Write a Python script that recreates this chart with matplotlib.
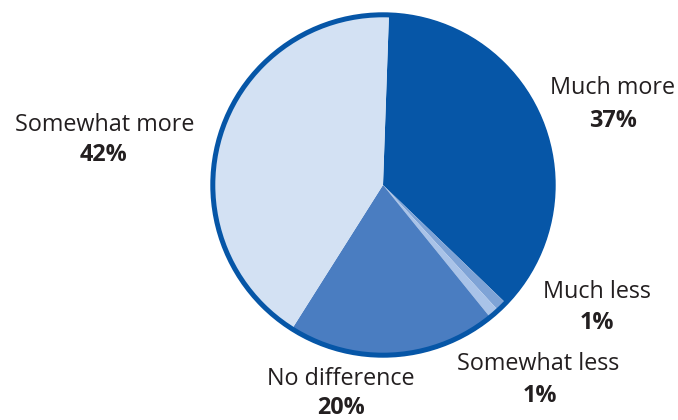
import matplotlib
matplotlib.use("Agg")
import matplotlib.pyplot as plt

categories = ["Much more", "Much less", "Somewhat less", "No difference", "Somewhat more"]
values = [37, 1, 1, 20, 42]
pct_labels = ["37%", "1%", "1%", "20%", "42%"]
colors = ["#0656a7", "#7ea3d6", "#a9c3e8", "#4a7dc1", "#d3e1f3"]

W, H = 678, 420
fig = plt.figure(figsize=(W / 100, H / 100), dpi=100)
ax = fig.add_axes([0, 0, 1, 1])

cx, cy, r = 383, H - 185, 172
ax.pie(values, colors=colors, startangle=88, counterclock=False,
       center=(cx, cy), radius=r, frame=True,
       wedgeprops=dict(linewidth=0))
ax.set_xlim(0, W)
ax.set_ylim(0, H)
ax.set_aspect("equal")
ax.axis("off")
circ = plt.Circle((cx, cy), r - 1.8, fill=False, edgecolor="#0656a7", linewidth=3.6)
ax.add_patch(circ)

font = "Open Sans"
tc = "#231f20"
name_pos = [(612, 88), (597, 292), (538, 364), (341, 379), (105, 125)]
pct_pos = [(613, 121), (597, 323), (540, 396), (341, 408), (104, 155)]
for name, pct, (nx, ny), (px, py) in zip(categories, pct_labels, name_pos, pct_pos):
    ax.text(nx, H - ny, name, ha="center", va="center", fontsize=16.8,
            family=font, color=tc)
    ax.text(px, H - py, pct, ha="center", va="center", fontsize=16.8,
            family=font, fontweight="bold", color=tc)

fig.savefig("out.png", dpi=100)
